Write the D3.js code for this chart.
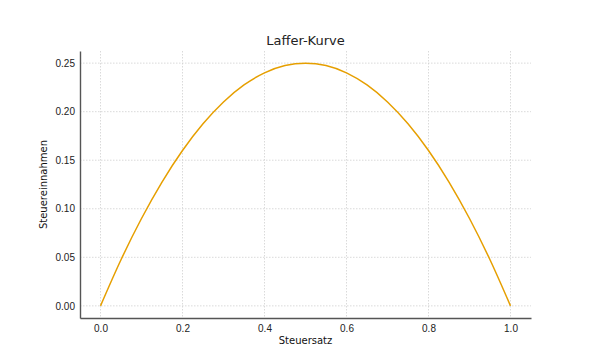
<!DOCTYPE html>
<html>
<head>
<meta charset="utf-8">
<script src="https://cdn.jsdelivr.net/npm/d3@7"></script>
<style>
  html, body { margin: 0; padding: 0; background: #fff; }
  svg { display: block; font-family: "DejaVu Sans", sans-serif; }
  .grid line { stroke: #d0d0d0; stroke-width: 0.8; stroke-dasharray: 1.5 1.5; }
  .axis path { stroke: #555; stroke-width: 1.4; }
  .axis line { display: none; }
  .axis text { fill: #222; font-size: 10px; }
  .axis-title { fill: #111; font-size: 10px; }
  .title { fill: #222; font-size: 13px; }
</style>
</head>
<body>
<div id="chart"></div>
<script>
// Laffer curve: tax revenue against tax rate.
const taxRates = [0, 0.05, 0.1, 0.15, 0.2, 0.25, 0.3, 0.35, 0.4, 0.45, 0.5,
  0.55, 0.6, 0.65, 0.7, 0.75, 0.8, 0.85, 0.9, 0.95, 1];
const revenues = [0, 0.0475, 0.09, 0.1275, 0.16, 0.1875, 0.21, 0.2275, 0.24, 0.2475, 0.25,
  0.2475, 0.24, 0.2275, 0.21, 0.1875, 0.16, 0.1275, 0.09, 0.0475, 0];
const xTicks = [0, 0.2, 0.4, 0.6, 0.8, 1.0];
const yTicks = [0, 0.05, 0.1, 0.15, 0.2, 0.25];

const width = 607, height = 351;
const m = { top: 51, right: 76, bottom: 33, left: 80 };
const iW = width - m.left - m.right, iH = height - m.top - m.bottom;

const x = d3.scaleLinear([-0.05, 1.05], [0, iW]);
const y = d3.scaleLinear([-0.0125, 0.2625], [iH, 0]);

const svg = d3.select("#chart").append("svg")
  .attr("width", width).attr("height", height);
const g = svg.append("g").attr("transform", `translate(${m.left},${m.top})`);

// dotted grid
const grid = g.append("g").attr("class", "grid");
grid.selectAll(".gx").data(xTicks).join("line").attr("class", "gx")
  .attr("x1", (d) => x(d)).attr("x2", (d) => x(d)).attr("y1", 0).attr("y2", iH);
grid.selectAll(".gy").data(yTicks).join("line").attr("class", "gy")
  .attr("x1", 0).attr("x2", iW).attr("y1", (d) => y(d)).attr("y2", (d) => y(d));

// curve
const pts = taxRates.map((t, i) => ({ t, r: revenues[i] }));
g.append("path").datum(pts)
  .attr("fill", "none").attr("stroke", "#e69f00").attr("stroke-width", 1.5)
  .attr("d", d3.line().x((p) => x(p.t)).y((p) => y(p.r)).curve(d3.curveMonotoneX));

// axes (left + bottom spines only)
g.append("g").attr("class", "axis").attr("transform", `translate(0,${iH})`)
  .call(d3.axisBottom(x).tickValues(xTicks).tickSize(0).tickPadding(7).tickSizeOuter(0)
    .tickFormat(d3.format(".1f")));
g.append("g").attr("class", "axis")
  .call(d3.axisLeft(y).tickValues(yTicks).tickSize(0).tickPadding(5).tickSizeOuter(0)
    .tickFormat(d3.format(".2f")));

g.append("text").attr("class", "axis-title").attr("text-anchor", "middle")
  .attr("x", iW / 2).attr("y", iH + 26).text("Steuersatz");
g.append("text").attr("class", "axis-title").attr("text-anchor", "middle")
  .attr("transform", `translate(${-33},${iH / 2}) rotate(-90)`).text("Steuereinnahmen");
g.append("text").attr("class", "title").attr("text-anchor", "middle")
  .attr("x", iW / 2).attr("y", -6).text("Laffer-Kurve");
</script>
</body>
</html>
